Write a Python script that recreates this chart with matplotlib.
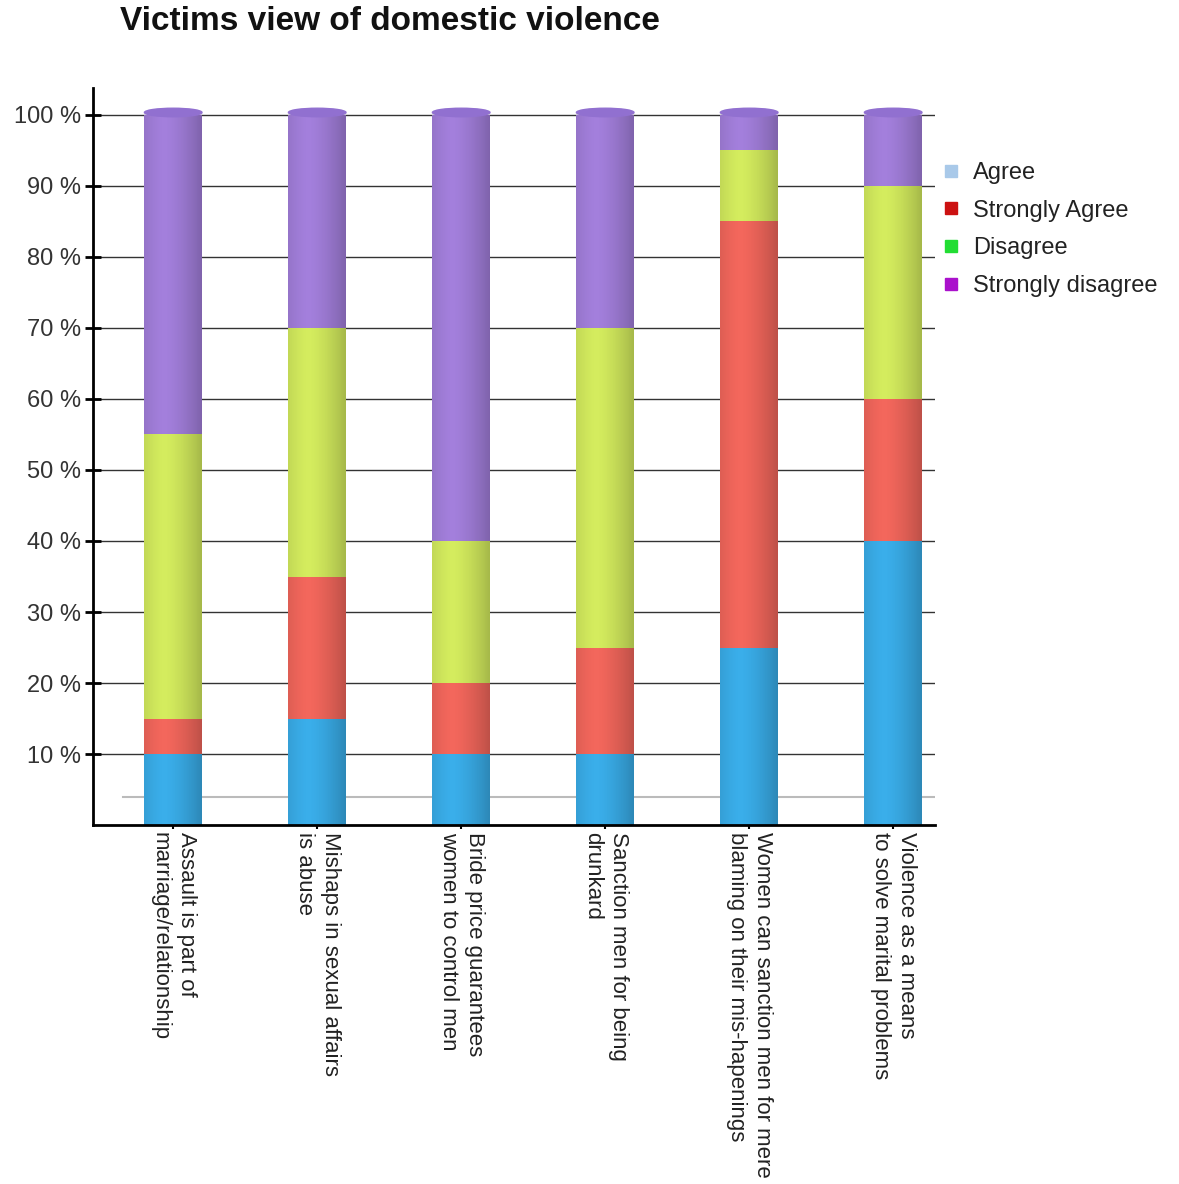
import matplotlib
matplotlib.use("Agg")
import matplotlib.pyplot as plt
import numpy as np
from matplotlib.patches import Ellipse, Rectangle
from matplotlib.lines import Line2D

plt.rcParams['font.family'] = ['Liberation Sans', 'DejaVu Sans']

categories = [
    "Assault is part of\nmarriage/relationship",
    "Mishaps in sexual affairs\nis abuse",
    "Bride price guarantees\nwomen to control men",
    "Sanction men for being\ndrunkard",
    "Women can sanction men for mere\nblaming on their mis-hapenings",
    "Violence as a means\nto solve marital problems",
]
agree = [10, 15, 10, 10, 25, 40]
strongly_agree = [5, 20, 10, 15, 60, 20]
disagree = [40, 35, 20, 45, 10, 30]
strongly_disagree = [45, 30, 60, 30, 5, 10]

series = [agree, strongly_agree, disagree, strongly_disagree]
bar_colors = ['#3aaeea', '#f3675c', '#d4ec5e', '#a37fdc']
legend_names = ['Agree', 'Strongly Agree', 'Disagree', 'Strongly disagree']
legend_colors = ['#a9c9e9', '#cc1111', '#22dd33', '#aa11cc']
yticks = [10, 20, 30, 40, 50, 60, 70, 80, 90, 100]

fig = plt.figure(figsize=(11.79, 11.84), dpi=100)
ax = fig.add_axes([0.079, 0.303, 0.714, 0.623])

x = np.arange(len(categories))
width = 0.4

# horizontal gridlines
for t in yticks:
    ax.axhline(t, color='#333333', lw=1, zorder=1)

# faint floor line
ax.plot([-0.35, 5.4], [4, 4], color='#bbbbbb', lw=1.5, zorder=1)

bottom = np.zeros(len(categories))
for vals, col in zip(series, bar_colors):
    ax.bar(x, vals, width, bottom=bottom, color=col, zorder=2, linewidth=0)
    bottom = bottom + np.array(vals)

# cylinder shading + top caps
shade = np.linspace(0, 1, 80)
alpha = np.clip(0.22 * (np.abs(shade - 0.35) / 0.65) ** 1.5, 0, 1)
grad = np.zeros((1, 80, 4))
grad[..., 3] = alpha
for xi, tot in zip(x, bottom):
    im = ax.imshow(grad, extent=[xi - width / 2, xi + width / 2, 0, tot],
                   aspect='auto', zorder=3, interpolation='bilinear')
    clip = Rectangle((xi - width / 2, 0), width, tot, transform=ax.transData)
    im.set_clip_path(clip)
    ax.add_patch(Ellipse((xi, tot + 0.3), width, 1.2, color='#9170d0', zorder=4))

ax.set_xlim(-0.556, 5.29)
ax.set_ylim(0, 103.8)
ax.set_yticks(yticks)
ax.set_yticklabels([f"{t} %" for t in yticks], fontsize=17, color='#333333')
ax.set_xticks(x)
ax.set_xticklabels(categories, rotation=270, ha='center', va='top', ma='left',
                   fontsize=16, color='#222222', linespacing=1.3)
ax.tick_params(axis='y', direction='inout', length=12, width=2, pad=3)
ax.tick_params(axis='x', direction='out', length=3, width=1.5, pad=2)

for s in ['top', 'right']:
    ax.spines[s].set_visible(False)
ax.spines['left'].set_linewidth(2)
ax.spines['bottom'].set_linewidth(2)

handles = [Line2D([], [], marker='s', linestyle='none', markersize=8,
                  markerfacecolor=c, markeredgecolor=c) for c in legend_colors]
fig.legend(handles, legend_names, loc='upper left', bbox_to_anchor=(0.779, 0.881),
           frameon=False, fontsize=17, labelspacing=0.66, handletextpad=0.4,
           handlelength=1.0, labelcolor='#222222')

fig.text(0.102, 1 - 22 / 1184, "Victims view of domestic violence", fontsize=24,
         fontweight='bold', va='center', ha='left', color='#111111')

fig.savefig("out.png", dpi=100)
